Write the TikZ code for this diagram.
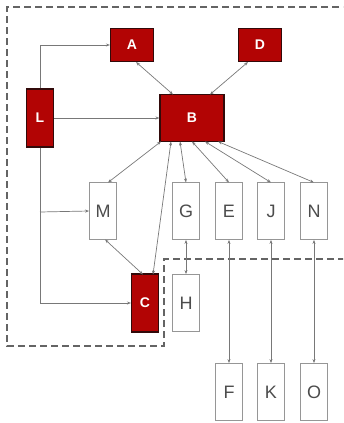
\documentclass[tikz,border=0pt]{standalone}
\usepackage{fontspec}
\setmainfont{Liberation Sans}
\usetikzlibrary{arrows.meta}
\definecolor{boxred}{RGB}{178,4,4}
\definecolor{boxedge}{RGB}{50,10,10}
\definecolor{lightedge}{RGB}{150,150,150}
\definecolor{linegray}{RGB}{120,120,120}
\definecolor{dashgray}{RGB}{100,100,100}
\begin{document}
\begin{tikzpicture}[x=1pt,y=-1pt,
  redbox/.style={draw=boxedge,line width=1.1pt,fill=boxred,text=white,font=\bfseries\fontsize{14}{14}\selectfont,inner sep=0pt,anchor=center},
  whitebox/.style={draw=lightedge,line width=0.8pt,fill=white,text=black!70,font=\fontsize{18}{18}\selectfont,minimum width=27pt,minimum height=57pt,inner sep=0pt},
  conn/.style={draw=linegray,line width=0.7pt,{Stealth[length=4pt,width=3pt]}-{Stealth[length=4pt,width=3pt]}},
  oneway/.style={draw=linegray,line width=0.7pt,-{Stealth[length=4pt,width=3pt]}},
  plain/.style={draw=linegray,line width=0.7pt},
  region/.style={draw=dashgray,line width=1.3pt,dash pattern=on 7pt off 4pt}]
\useasboundingbox (0,0) rectangle (343,423);
\begin{scope}
\clip (0,0) rectangle (343,423);
\draw[region] (350,7) -- (7,7) -- (7,346) -- (164,346) -- (164,259) -- (350,259);
\end{scope}
% red nodes
\node[redbox,minimum width=43pt,minimum height=33pt] (A) at (132,45) {A};
\node[redbox,minimum width=43pt,minimum height=33pt] (D) at (260,45) {D};
\node[redbox,minimum width=64pt,minimum height=47pt] (B) at (192,118) {B};
\node[redbox,minimum width=27pt,minimum height=58pt] (L) at (40,118) {L};
\node[redbox,minimum width=27pt,minimum height=58pt] (C) at (145,303) {C};
% white nodes
\node[whitebox] (M) at (103,211) {M};
\node[whitebox] (G) at (186,211) {G};
\node[whitebox] (E) at (229,211) {E};
\node[whitebox] (J) at (271,211) {J};
\node[whitebox] (N) at (314,211) {N};
\node[whitebox] (H) at (186,303) {H};
\node[whitebox] (F) at (229,392) {F};
\node[whitebox] (K) at (271,392) {K};
\node[whitebox] (O) at (314,392) {O};
% L connectors
\coordinate (Lm) at (40,212);
\coordinate (Lc) at (40,303);
\draw[oneway] (L.north) |- (A.west);
\draw[oneway] (L.east) -- (B.west);
\draw[plain] (L.south) -- (Lc);
\draw[oneway] (Lc) -- (C.west);
\draw[oneway] (Lm) -- (M.west);
% B connectors
\draw[conn] (136,62) -- (173,94.5);
\draw[conn] (248,62) -- (210,94.5);
\draw[conn] (161,141.5) -- (108,182.5);
\draw[conn] (171,141.5) -- (153,274.5);
\draw[conn] (180,141.5) -- (186,182.5);
\draw[conn] (192,141.5) -- (229,182.5);
\draw[conn] (205,141.5) -- (271,182.5);
\draw[conn] (218,141.5) -- (314,182.5);
% other connectors
\draw[conn] (105,239.5) -- (143,274.5);
\draw[conn] (G.south) -- (H.north);
\draw[conn] (E.south) -- (F.north);
\draw[conn] (J.south) -- (K.north);
\draw[conn] (N.south) -- (O.north);
\end{tikzpicture}
\end{document}
